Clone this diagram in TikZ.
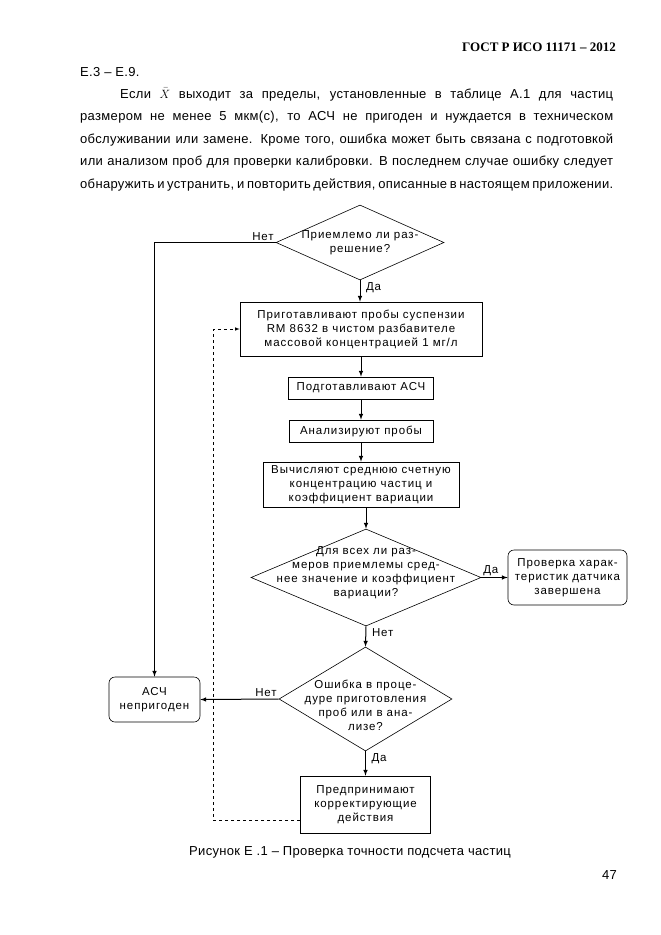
\documentclass[tikz,border=0pt]{standalone}
\usepackage{fontspec}
\setmainfont{Liberation Sans}
\newfontfamily\headfont{Liberation Serif}
\newfontfamily\flowfont[LetterSpace=8]{Liberation Sans}
\newfontfamily\bodyfont[LetterSpace=2.5]{Liberation Sans}
\usetikzlibrary{arrows}
\usetikzlibrary{calc}
\usetikzlibrary{positioning}
\usetikzlibrary{shapes.geometric}

\begin{document}
\begin{tikzpicture}[
  x=1pt, y=-1pt,
  > = latex,
  body/.style = {font=\bodyfont\fontsize{13}{22.5}\selectfont, inner sep=0pt},
  flowtext/.style = {font=\flowfont\fontsize{11.5}{14}\selectfont, align=center, inner sep=0pt},
  block/.style = {draw, line width=0.6pt, flowtext},
  endblock/.style = {block, rounded corners=6pt},
  decision/.style = {draw, diamond, line width=0.6pt, inner sep=0pt},
  flow/.style = {->, line width=1pt},
  yesno/.style = {font=\flowfont\fontsize{11.5}{14}\selectfont, inner sep=1.5pt}
  ]
	\fill[white] (0,0) rectangle (661,935);

	% page text
	\node[anchor=base east, inner sep=0pt, font=\headfont\bfseries\fontsize{13}{15}\selectfont] (gost) at (616,51) {ГОСТ Р ИСО 11171 – 2012};
	\node[body, anchor=base west] (ref) at (80,76) {Е.3 – Е.9.};
	\node[body, anchor=base west] (par) at (80,98) {\parbox[t]{533pt}{%
		\hspace*{40pt}\makebox[493pt][s]{Если \raisebox{0pt}[0pt][0pt]{$\bar{X}$} выходит за пределы, установленные в таблице А.1 для частиц}\\
		\makebox[533pt][s]{размером не менее 5 мкм(c), то АСЧ не пригоден и нуждается в техническом}\\
		\makebox[533pt][s]{обслуживании или замене. Кроме того, ошибка может быть связана с подготовкой}\\
		\makebox[533pt][s]{или анализом проб для проверки калибровки. В последнем случае ошибку следует}\\
		\makebox[533pt][s]{обнаружить и устранить, и повторить действия, описанные в настоящем приложении.}}};

	% flowchart
	\node[decision, minimum width=168, minimum height=75,
		label={[flowtext]center:Приемлемо ли раз-\\решение?}] (reso) at (360,242.5) {};
	\node[block, minimum width=242, minimum height=54] (prep) at (361,329) {Приготавливают пробы суспензии\\RM 8632 в чистом разбавителе\\массовой концентрацией 1 мг/л};
	\node[block, minimum width=145, minimum height=22] (setup) at (361,388) {Подготавливают АСЧ};
	\node[block, minimum width=144, minimum height=22] (anal) at (361,431) {Анализируют пробы};
	\node[block, minimum width=196, minimum height=45] (calc) at (361,484.5) {Вычисляют среднюю счетную\\концентрацию частиц и\\коэффициент вариации};
	\node[decision, minimum width=230, minimum height=97,
		label={[flowtext, yshift=5pt]center:Для всех ли раз-\\меров приемлемы сред-\\нее значение и коэффициент\\вариации?}] (check) at (366,577.5) {};
	\node[endblock, minimum width=119, minimum height=55] (done) at (567.5,577.5) {Проверка харак-\\теристик датчика\\завершена};
	\node[decision, minimum width=173, minimum height=104,
		label={[flowtext, yshift=-6pt]center:Ошибка в проце-\\дуре приготовления\\проб или в ана-\\лизе?}] (err) at (365.5,699) {};
	\node[endblock, minimum width=91, minimum height=45] (unfit) at (154.5,699.5) {АСЧ\\непригоден};
	\node[block, minimum width=130, minimum height=57] (act) at (365.5,804.5) {Предпринимают\\корректирующие\\действия};

	\draw[flow] (reso.south) node[yesno, below right, xshift=4pt] {Да} -- (reso.south |- prep.north);
	\draw[flow] (reso.west) node[yesno, above left] {Нет} -| (unfit.north);
	\draw[flow] (prep) -- (setup);
	\draw[flow] (setup) -- (anal);
	\draw[flow] (anal) -- (calc);
	\draw[flow] (calc.south -| check.north) -- (check.north);
	\draw[flow] (check.east) node[yesno, above right] {Да} -- (done.west);
	\draw[flow] (check.south) node[yesno, below right, xshift=4pt] {Нет} -- (err.north);
	\draw[flow] (err.west) node[yesno, above left] {Нет} -- (unfit.east);
	\draw[flow] (err.south) node[yesno, below right, xshift=4pt] {Да} -- (act.north);
	\draw[->, dashed, line width=0.6pt] ($(act.south west)+(0,-13)$) -| ($(prep.west)+(-26,0)$) -- (prep.west);

	\node[body, anchor=base west] (cap) at (189,855) {Рисунок Е .1 – Проверка точности подсчета частиц};
	\node[body, anchor=base east] (page) at (617,879) {47};

\end{tikzpicture}
\end{document}
